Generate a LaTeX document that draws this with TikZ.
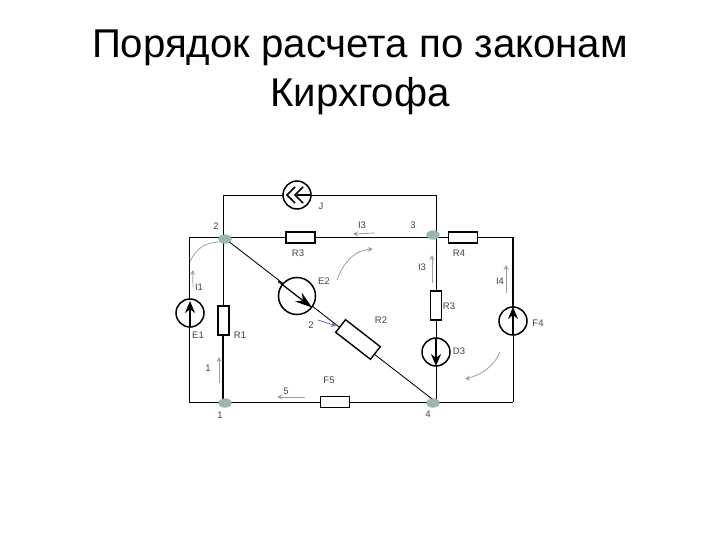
\documentclass[tikz,border=0pt]{standalone}
\usepackage{fontspec}
\setmainfont{Liberation Sans}
\usetikzlibrary{arrows.meta,shapes.geometric}
\definecolor{arcgray}{RGB}{150,160,180}
\definecolor{jointc}{RGB}{150,185,170}
\tikzset{
  wire/.style={draw=black,line width=0.85pt},
  thickwire/.style={draw=black,line width=2.2pt},
  res/.style={draw=black,fill=white,line width=1.4pt,minimum width=#1,inner sep=0pt,outer sep=0pt},
  res/.default=29pt,
  src/.style={circle,draw=black,fill=white,line width=1.5pt,minimum size=28pt,inner sep=0pt,outer sep=0pt},
  joint/.style={ellipse,fill=jointc,minimum width=13pt,minimum height=9pt,inner sep=0pt},
  lab/.style={font=\fontsize{9.5}{11}\selectfont,text=black!75,inner sep=0pt},
  title/.style={font=\fontsize{40.2}{49}\selectfont,align=center,inner sep=0pt},
  cur/.style={draw=arcgray,line width=0.8pt,-{Stealth[length=5pt,width=5pt]}},
  tip/.style={-{Stealth[length=12pt,width=10pt]},line width=1.3pt},
}
\begin{document}
\begin{tikzpicture}[x=1pt,y=-1pt]
\useasboundingbox (0,0) rectangle (720,540);
\node[title] (t) at (360,72) {Порядок расчета по законам\\Кирхгофа};
% corners
\coordinate (tl) at (223,195);
\coordinate (tr) at (436,195);
\coordinate (ml) at (189,237);
\coordinate (mr) at (513,237);
\coordinate (bl) at (189,402);
\coordinate (br) at (513,402);
% joints
\node[joint] (n2) at (225,239) {};
\node[joint] (n3) at (433,235) {};
\node[joint] (n1) at (225,403) {};
\node[joint] (n4) at (433,403) {};
% wires
\draw[wire] (223,237) -- (tl) -- (tr) -- (436,237);
\draw[wire] (ml) -- (mr);
\draw[wire] (ml) -- (bl) -- (br);
\draw[wire] (436,237) -- (436,402);
\draw[wire] (223,237) -- (223,306);
\draw[thickwire] (223,335) -- (223,402);
\draw[thickwire] (mr) -- (513,307);
\draw[wire] (513,307) -- (br);
\draw[wire] (223,237) -- (436,402);
\foreach \n in {n2,n3,n1,n4} \node[joint] at (\n) {};
% elements
\node[src] (J) at (297,195) {};
\draw[line width=1.1pt] (310,195) -- (297,195);
\draw[line width=1.6pt] (295,187) -- (287,195) -- (295,203);
\draw[line width=1.6pt] (303,187) -- (295,195) -- (303,203);
\node[res,minimum height=11pt] (R3h) at (300.5,237.5) {};
\node[res,minimum height=11pt] (R4) at (463,237.5) {};
\node[res,minimum height=11pt,line width=0.9pt] (R5) at (334.5,401.5) {};
\node[res=11pt,minimum height=29pt] (R1) at (223.5,320.5) {};
\node[res=11pt,minimum height=29pt] (R3v) at (436,305.5) {};
\node[res=44pt,minimum height=16pt,rotate=-37.8] (R2) at (358,339.5) {};
\node[src] (E1) at (190,313) {};
\draw[tip] (190,327) -- (190,301);
\node[src] (E4) at (513,321) {};
\draw[tip] (513,335) -- (513,307);
\node[src] (D3) at (436,352) {};
\draw[tip] (436,338) -- (436,366);
\node[src,minimum size=37pt] (E2) at (297,296) {};
\draw[tip,-{Stealth[length=17pt,width=11pt]}] (278,281.3) -- (312,307.5);
% current arrows
\coordinate (a1) at (190,262); \coordinate (a2) at (220,242);
\draw[draw=arcgray,line width=0.8pt] (a1) .. controls (196,248) and (206,242) .. (a2);
\coordinate (b1) at (193,287); \coordinate (b2) at (193,270);
\draw[cur] (b1) .. controls (192,280) .. (b2);
\coordinate (c1) at (337,280); \coordinate (c2) at (373,249);
\draw[cur] (c1) .. controls (345,258) and (358,250) .. (c2);
\coordinate (d1) at (375,233); \coordinate (d2) at (353,234);
\draw[cur] (d1) -- (d2);
\coordinate (e1) at (432,283); \coordinate (e2) at (432,255);
\draw[cur] (e1) -- (e2);
\coordinate (f1) at (506,293); \coordinate (f2) at (506,265);
\draw[cur] (f1) -- (f2);
\coordinate (g1) at (318,320); \coordinate (g2) at (336,326);
\draw[cur,draw=arcgray!70!blue] (g1) -- (g2);
\coordinate (h1) at (219,383); \coordinate (h2) at (219,357);
\draw[cur] (h1) -- (h2);
\coordinate (i1) at (305,397); \coordinate (i2) at (277,397);
\draw[cur] (i1) -- (i2);
\coordinate (k1) at (500,352); \coordinate (k2) at (465,379);
\draw[cur] (k1) .. controls (493,368) and (480,375) .. (k2);
% labels
\node[lab] (lJ) at (321,206) {J};
\node[lab] (l2) at (216,226) {2};
\node[lab] (lI3) at (362,225) {I3};
\node[lab] (l3) at (413,225) {3};
\node[lab] (lR3) at (298,253) {R3};
\node[lab] (lR4) at (459,253) {R4};
\node[lab] (lE2) at (324,281) {E2};
\node[lab] (lI3v) at (422,267) {I3};
\node[lab] (l4i) at (500,281) {I4};
\node[lab] (lI1) at (199,287) {I1};
\node[lab] (lE1) at (198,335) {E1};
\node[lab] (lR1) at (240,335) {R1};
\node[lab] (l2i) at (311,325) {2};
\node[lab] (lR2) at (381,320) {R2};
\node[lab] (lR3v) at (449,306) {R3};
\node[lab] (lD3) at (459,351) {D3};
\node[lab] (lF4) at (538,323) {F4};
\node[lab] (l1i) at (208,368) {1};
\node[lab] (l5i) at (286,391) {5};
\node[lab] (lF5) at (329,380) {F5};
\node[lab] (l1) at (220,415) {1};
\node[lab] (l4) at (428,414) {4};
\end{tikzpicture}
\end{document}
